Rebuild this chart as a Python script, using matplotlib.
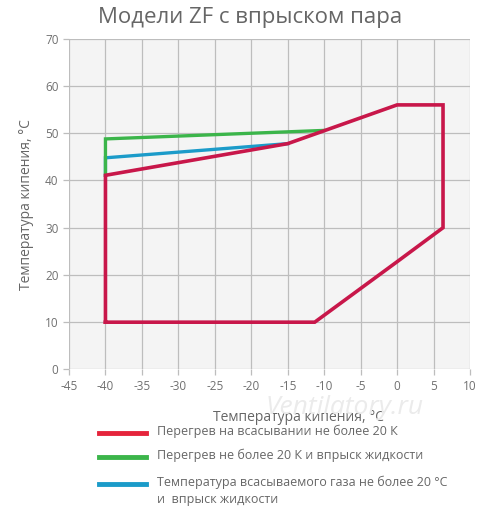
import matplotlib
matplotlib.use("Agg")
import matplotlib.pyplot as plt
from matplotlib.lines import Line2D

plt.rcParams['font.family'] = ['Open Sans', 'DejaVu Sans']
plt.rcParams['axes.unicode_minus'] = False

# границы рабочей области (температура кипения, температура конденсации)
red_x = [-40, -40, -15, 0, 6.3, 6.3, 0, -11.3, -40]
red_y = [10, 41.1, 47.8, 56, 56, 30, 22.8, 10, 10]
green_x = [-40, -40, -10]
green_y = [41.1, 48.8, 50.6]
blue_x = [-40, -40, -15]
blue_y = [41.1, 44.8, 47.8]

x_ticks = list(range(-45, 11, 5))
y_ticks = list(range(0, 71, 10))

labels = ["Перегрев на всасывании не более 20 К",
          "Перегрев не более 20 К и впрыск жидкости",
          "Температура всасываемого газа не более 20 °C\nи  впрыск жидкости"]
colors = ["#c8174a", "#3bb54a", "#1b9bc9"]
legend_colors = ["#e5243b", "#3bb54a", "#1b9bc9"]

W, H = 500, 524
fig = plt.figure(figsize=(W / 100, H / 100), dpi=100)
ax = fig.add_axes([0.138, 0.295, 0.802, 0.631])
ax.set_facecolor("#f4f4f4")

ax.plot(blue_x, blue_y, color=colors[2], lw=2.4, solid_joinstyle='miter', zorder=3)
ax.plot(green_x, green_y, color=colors[1], lw=2.4, solid_joinstyle='miter', zorder=3)
ax.plot(red_x, red_y, color=colors[0], lw=2.6, solid_joinstyle='miter', zorder=4)

ax.set_xlim(-45, 10)
ax.set_ylim(0, 70)
ax.set_xticks(x_ticks)
ax.set_yticks(y_ticks)
ax.grid(True, color="#bdbdbd", lw=0.9)
ax.set_axisbelow(True)
for s in ax.spines.values():
    s.set_visible(False)
ax.tick_params(colors="#bdbdbd", labelcolor="#707070", labelsize=8.5, length=4, width=0.9)

ax.set_xlabel("Температура кипения, °C", fontsize=10, color="#666666")
ax.xaxis.set_label_coords(0.571, -0.123)
ax.set_ylabel("Температура кипения, °C", fontsize=10, color="#666666", labelpad=8)
fig.text(0.5, 1 - 18 / H, "Модели ZF с впрыском пара", ha='center', va='center',
         fontsize=16, color="#666666")

# водяной знак
fig.text(0.69, 1 - 408 / H, "Ventilatory.ru", ha='center', va='center', fontsize=19,
         style='italic', color="#ebebeb", zorder=0)

# легенда: линия на уровне первой строки подписи
rows_y = [433, 457, 484]
for c, lab, yp in zip(legend_colors, labels, rows_y):
    y = 1 - yp / H
    fig.add_artist(Line2D([99 / W, 146 / W], [y, y], color=c, lw=3.5,
                          transform=fig.transFigure))
    fig.text(157 / W, y + 8 / H, lab, ha='left', va='top', fontsize=9,
             color="#666666", linespacing=1.4)

fig.savefig("out.png", dpi=100)
